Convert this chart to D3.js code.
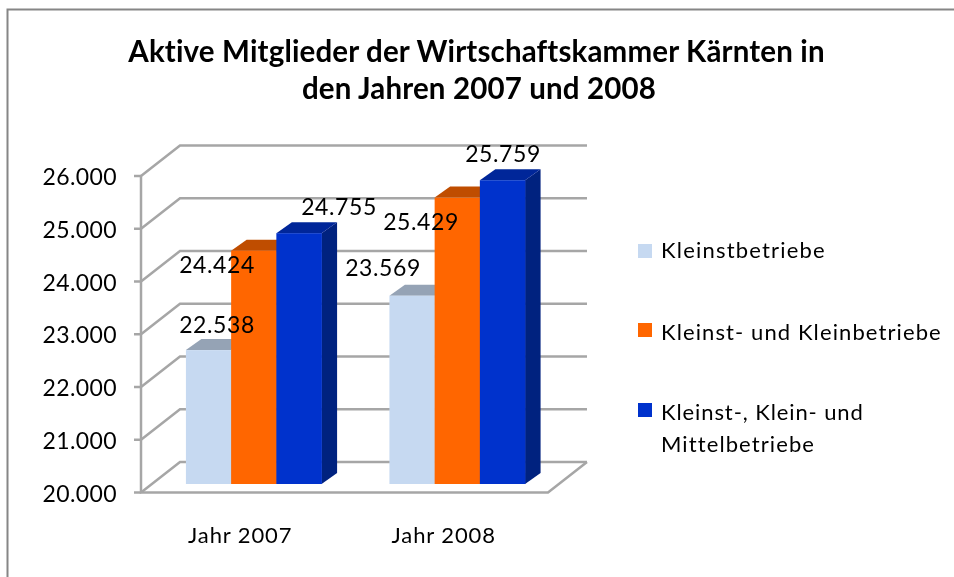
<!DOCTYPE html>
<html><head><meta charset="utf-8">
<style>html,body{margin:0;padding:0;background:#fff}svg{display:block}text{font-family:Lato,"Open Sans",sans-serif;fill:#000}</style>
<script src="https://cdn.jsdelivr.net/npm/d3@7"></script></head>
<body><svg id="c" width="954" height="577"></svg>
<script>
const titleLines = ["Aktive Mitglieder der Wirtschaftskammer Kärnten in","den Jahren 2007 und 2008"];
const categories = ["Jahr 2007","Jahr 2008"];
const seriesNames = ["Kleinstbetriebe","Kleinst- und Kleinbetriebe","Kleinst-, Klein- und Mittelbetriebe"];
const kleinst = [22538,23569];
const kleinUnd = [24424,25429];
const mittel = [24755,25759];
const yTicks = [20000,21000,22000,23000,24000,25000,26000];
const colors = ["#c6d9f1","#ff6600","#0033cc"];
const topColors = ["#95a3b5","#bf4d00","#002699"];
const sideColors = ["#95a3b5","#bf4d00","#00207f"];
const seriesValues = [kleinst,kleinUnd,mittel];
const fmt = v => d3.format(",")(v).replace(/,/g,".");

const svg = d3.select("#c");
const defs = svg.append("defs");
defs.append("filter").attr("id","soft").append("feGaussianBlur").attr("stdDeviation",0.5);
defs.append("filter").attr("id","softText").append("feGaussianBlur").attr("stdDeviation",0.3);
svg.append("path").attr("d","M7.5,577V9.5H954").attr("fill","none").attr("stroke","#868686").attr("stroke-width",2);

const y = d3.scaleLinear().domain([20000,26000]).range([492.5,176]);
const wallDx=39, wallDy=-30.5, barDx=15.5, barDy=-11, barShiftX=11, barShiftY=-8.5;
const axisX=141, floorW=407;
const x0 = d3.scaleBand().domain(categories).range([axisX+barShiftX,axisX+barShiftX+floorW]).paddingInner(1/3).paddingOuter(1/6);
const x1 = d3.scaleBand().domain(d3.range(3)).range([0,x0.bandwidth()]);

const grid = svg.append("g").attr("filter","url(#soft)").attr("fill","none").attr("stroke","#a6a6a6").attr("stroke-width",2.5);
yTicks.forEach(t=>{
  grid.append("path").attr("d",d3.line()([[axisX,y(t)],[axisX+wallDx,y(t)+wallDy],[axisX+wallDx+floorW,y(t)+wallDy]]));
  grid.append("path").attr("d",d3.line()([[axisX-7,y(t)],[axisX,y(t)]]));
});
grid.append("path").attr("d",d3.line()([[axisX,y(26000)],[axisX,y(20000)],[axisX+floorW,y(20000)],[axisX+floorW+wallDx,y(20000)+wallDy]]));

const bars = svg.append("g").attr("filter","url(#soft)");
categories.forEach((c,ci)=>{
  seriesValues.forEach((vals,si)=>{
    const v=vals[ci], l=x0(c)+x1(si), r=l+x1.bandwidth();
    const t=y(v)+barShiftY, b=y(20000)+barShiftY;
    bars.append("path").attr("fill",sideColors[si]).attr("d",d3.line()([[r,t],[r+barDx,t+barDy],[r+barDx,b+barDy],[r,b]])+"Z");
    bars.append("path").attr("fill",topColors[si]).attr("d",d3.line()([[l,t],[l+barDx,t+barDy],[r+barDx,t+barDy],[r,t]])+"Z");
    bars.append("rect").attr("x",l).attr("y",t).attr("width",r-l+0.3).attr("height",b-t).attr("fill",colors[si]);
  });
});

const texts = svg.append("g").attr("filter","url(#softText)");
texts.append("g").selectAll("text").data(yTicks).join("text").attr("x",117).attr("y",d=>y(d)+9).attr("text-anchor","end").attr("font-size",23).attr("letter-spacing",0.4).text(fmt);
texts.append("g").selectAll("text").data(categories).join("text").attr("x",d=>x0(d)+x0.bandwidth()/2-13.5).attr("y",543).attr("text-anchor","middle").attr("font-size",22).attr("letter-spacing",0.9).text(d=>d);
// data labels: placed by hand around each bar top, as in the reference
const labelX=[[217,217,339],[383,421,503]];
const labelOff=[[-26,14,-27],[-28,24,-27]];
categories.forEach((c,ci)=>seriesValues.forEach((vals,si)=>{
  texts.append("text").attr("x",labelX[ci][si]).attr("y",y(vals[ci])+labelOff[ci][si])
    .attr("text-anchor","middle").attr("font-size",23).attr("letter-spacing",0.6).text(fmt(vals[ci]));
}));
texts.append("g").selectAll("text").data(titleLines).join("text").attr("x",(d,i)=>[476.5,479][i]).attr("y",(d,i)=>62+i*37).attr("text-anchor","middle").attr("font-size",29.5).attr("letter-spacing",0.15).attr("font-weight",700).text(d=>d);
const legY=[244,323,403];
const leg=texts.append("g");
seriesNames.forEach((n,i)=>{
  leg.append("rect").attr("x",638).attr("y",legY[i]).attr("width",14).attr("height",14).attr("fill",colors[i]);
});
const legLines=[[seriesNames[0],258,1.2],[seriesNames[1],340,1.1],["Kleinst-, Klein- und",420,0.9],["Mittelbetriebe",452,1.1]];
legLines.forEach(([s,b,ls])=>leg.append("text").attr("x",661).attr("y",b).attr("font-size",22).attr("letter-spacing",ls).text(s));
</script></body></html>
